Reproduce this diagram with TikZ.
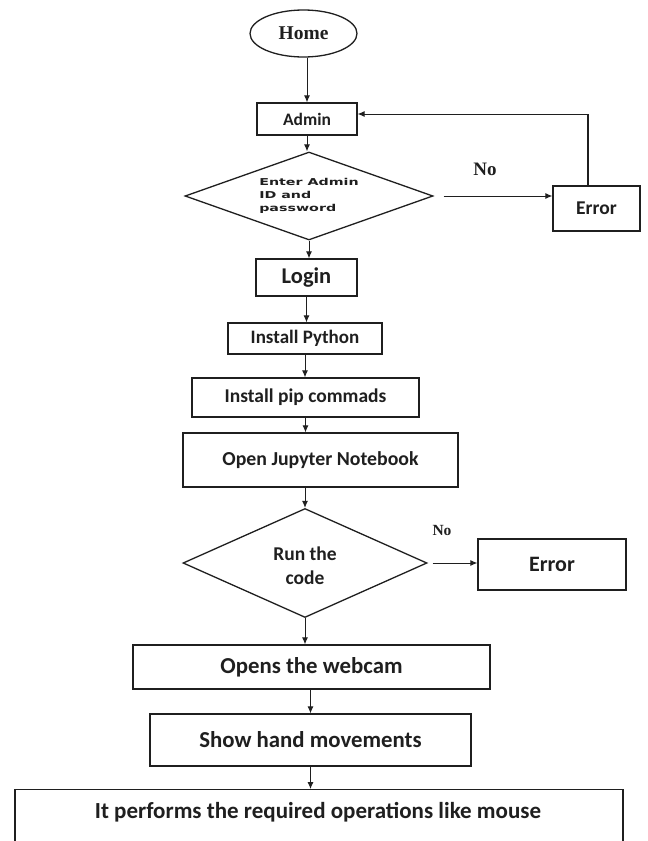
\documentclass[tikz,border=0pt]{standalone}
\usepackage{fontspec}
\setmainfont{Carlito}
\newfontfamily\timesf{Liberation Serif}
\newfontfamily\dejavu{DejaVu Sans}
\usetikzlibrary{shapes.geometric,arrows.meta}
\definecolor{ink}{gray}{0.12}
\tikzset{
  box/.style={draw=ink, line width=1.3pt, rectangle, inner sep=0pt, font=\bfseries, text=ink},
  dec/.style={draw=ink, line width=1.3pt, diamond, inner sep=0pt},
  arr/.style={draw=ink, line width=0.9pt, -{Latex[length=7pt,width=6pt]}},
  line/.style={draw=ink, line width=1.3pt},
  nolabel/.style={font=\timesf\bfseries, text=ink},
}
\newcommand{\fsz}[2]{\fontsize{#1pt}{#2pt}\selectfont}
\begin{document}
\begin{tikzpicture}[x=1pt,y=-1pt]
\clip (0,0) rectangle (648,841);
\fill[white] (0,0) rectangle (648,841);

\node[draw=ink, line width=1.3pt, ellipse, minimum width=107pt, minimum height=47pt, inner sep=0pt, font=\timesf\bfseries\fsz{19.5}{22}, text=ink] (home) at (303.5,33.5) {Home};
\node[box, minimum width=100pt, minimum height=32pt, font=\bfseries\fsz{17.5}{20}] (admin) at (307,119) {Admin};
\node[dec, minimum width=248pt, minimum height=88pt,
  label={[align=left, font=\dejavu\bfseries\fsz{9.5}{13}, text=ink]center:\scalebox{1.5}[1]{Enter Admin}\\\scalebox{1.5}[1]{ID and}\\\scalebox{1.5}[1]{password}}] (d1) at (309,196) {};
\node[box, minimum width=87pt, minimum height=45pt, font=\bfseries\fsz{19.5}{22}] (err1) at (596.5,208.5) {Error};
\node[box, minimum width=101pt, minimum height=37pt, font=\bfseries\fsz{22.5}{26}] (login) at (306.5,277.5) {Login};
\node[box, minimum width=154pt, minimum height=31pt, font=\bfseries\fsz{19}{22}] (python) at (305,338.5) {Install Python};
\node[box, minimum width=227pt, minimum height=39pt, font=\bfseries\fsz{19.5}{22}] (pip) at (305.5,397.5) {Install pip commads};
\node[box, minimum width=275pt, minimum height=54pt, font=\bfseries\fsz{19.8}{23}] (jupyter) at (320.5,460) {Open Jupyter Notebook};
\node[dec, minimum width=244pt, minimum height=109pt,
  label={[align=center, font=\bfseries\fsz{19.5}{24}, text=ink, yshift=-3pt]center:Run the\\code}] (d2) at (305,563) {};
\node[box, minimum width=148pt, minimum height=51pt, font=\bfseries\fsz{22}{25}] (err2) at (552,564.5) {Error};
\node[box, minimum width=357pt, minimum height=44pt, font=\bfseries\fsz{22.8}{26}] (webcam) at (311.5,667) {Opens the webcam};
\node[box, minimum width=321pt, minimum height=52pt, font=\bfseries\fsz{22.8}{26}] (hand) at (310.5,740) {Show hand movements};
\node[box, minimum width=608pt, minimum height=80pt, anchor=north] (final) at (319,789) {};
\node[font=\bfseries\fsz{23}{26}, text=ink] (finaltext) at (318,812) {It performs the required operations like mouse};

\coordinate (fb) at (588,114);
\node[nolabel, font=\timesf\bfseries\fsz{19}{22}] (no1) at (485,169) {No};
\node[nolabel, font=\timesf\bfseries\fsz{15.5}{18}] (no2) at (442,530) {No};

\draw[arr] (home.south -| admin.north) -- (admin.north);
\draw[arr] (admin.south) -- (admin.south |- d1.north);
\draw[arr, shorten <=10pt] (d1.east) -- (err1.west |- d1.east);
\draw[line] (err1.north -| fb) -- (fb);
\draw[arr] (fb) -- (fb -| admin.east);
\draw[arr] (d1.south) -- (d1.south |- login.north);
\draw[arr] (login.south) -- (login.south |- python.north);
\draw[arr] (python.south) -- (python.south |- pip.north);
\draw[arr] (pip.south) -- (pip.south |- jupyter.north);
\draw[arr] (d2.north |- jupyter.south) -- (d2.north);
\draw[arr, shorten <=5pt] (d2.east) -- (err2.west |- d2.east);
\draw[arr] (d2.south) -- (d2.south |- webcam.north);
\draw[arr] (hand.north |- webcam.south) -- (hand.north);
\draw[arr] (hand.south) -- (hand.south |- final.north);
\end{tikzpicture}
\end{document}
